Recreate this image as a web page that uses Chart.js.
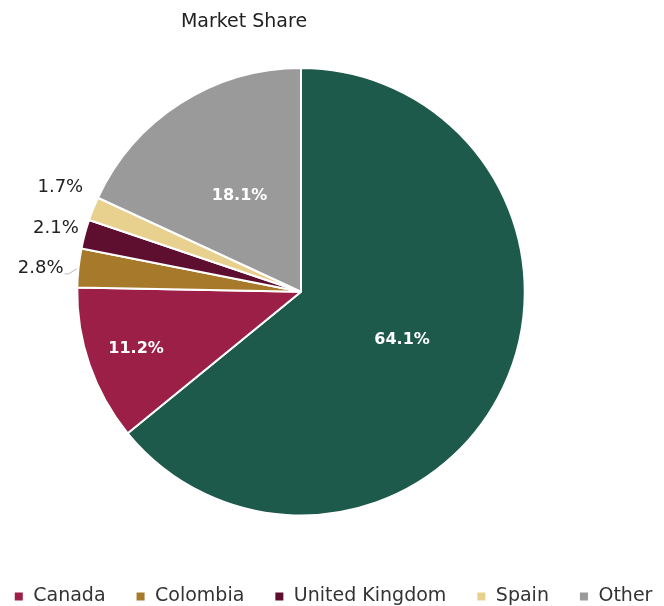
<!DOCTYPE html>
<html>
<head>
<meta charset="utf-8">
<script src="https://cdn.jsdelivr.net/npm/chart.js@4.4.1/dist/chart.umd.min.js"></script>
<style>
  html, body { margin: 0; padding: 0; overflow: hidden; background: #fff; }
  /* canvas is wider than the window: first legend entry falls off the left edge like the original */
  #wrap { position: absolute; left: -236px; top: 0; width: 960px; height: 616px; }
</style>
</head>
<body>
<div id="wrap"><canvas id="share" width="960" height="616"></canvas></div>
<script>
const countries = ['United States', 'Canada', 'Colombia', 'United Kingdom', 'Spain', 'Other'];
const shares = [64.1, 11.2, 2.8, 2.1, 1.7, 18.1];
const sliceColors = ['#1d5a4b', '#9b1f47', '#a67a2a', '#5e0f30', '#e8d08e', '#9a9a9a'];

// where each % label goes: inside at a fraction of the radius, or outside near the edge
const labelPlacement = [
  { r: 0.5 },
  { r: 0.78 },
  { r: 1, dx: -15, dy: 0, outside: true, leader: true },
  { r: 1, dx: -6, dy: -6, outside: true },
  { r: 1, dx: -10, dy: -21, outside: true },
  { r: 0.51 },
];

Chart.defaults.font.family = '"DejaVu Sans", sans-serif';

// move the pie sideways without touching title / legend
const shiftPie = {
  id: 'shiftPie',
  afterLayout(chart, args, opts) {
    chart.chartArea.left += opts.dx;
    chart.chartArea.right += opts.dx;
  }
};

// percent labels on the slices
const pieLabels = {
  id: 'pieLabels',
  afterDatasetsDraw(chart) {
    const ctx = chart.ctx;
    const meta = chart.getDatasetMeta(0);
    meta.data.forEach((arc, i) => {
      const p = arc.getProps(['x', 'y', 'startAngle', 'endAngle', 'outerRadius'], true);
      const mid = (p.startAngle + p.endAngle) / 2;
      const place = labelPlacement[i];
      const r = p.outerRadius * place.r;
      let x = p.x + Math.cos(mid) * r;
      let y = p.y + Math.sin(mid) * r;
      const text = shares[i].toFixed(1) + '%';
      ctx.save();
      ctx.textBaseline = 'middle';
      if (place.outside) {
        const ex = x, ey = y;
        x += place.dx;
        y += place.dy;
        ctx.font = '18px "DejaVu Sans"';
        ctx.fillStyle = '#222';
        ctx.textAlign = 'right';
        ctx.fillText(text, x, y);
        if (place.leader) {
          ctx.strokeStyle = '#b8b8b8';
          ctx.lineWidth = 1;
          ctx.beginPath();
          ctx.moveTo(x + 1, y + 6);
          ctx.lineTo(x + 5, y + 6);
          ctx.lineTo(ex - 2, ey + 1);
          ctx.stroke();
        }
      } else {
        ctx.font = 'bold 16px "DejaVu Sans"';
        ctx.fillStyle = '#fff';
        ctx.textAlign = 'center';
        ctx.fillText(text, x, y);
      }
      ctx.restore();
    });
  }
};

new Chart(document.getElementById('share'), {
  type: 'pie',
  data: {
    labels: countries,
    datasets: [{
      data: shares,
      backgroundColor: sliceColors,
      borderColor: '#ffffff',
      borderWidth: 2,
    }],
  },
  options: {
    responsive: false,
    devicePixelRatio: 1,
    animation: false,
    plugins: {
      shiftPie: { dx: 57 },
      tooltip: { enabled: false },
      title: {
        display: true,
        text: 'Market Share',
        color: '#222',
        font: { size: 19, weight: 'normal' },
        padding: { top: 11, bottom: 33.2 },
      },
      legend: {
        position: 'bottom',
        title: { display: true, text: '', font: { size: 10 }, padding: { top: 28.5, bottom: 0 } },
        labels: {
          color: '#333',
          font: { size: 19 },
          boxWidth: 10,
          boxHeight: 10,
          padding: 30,
        },
      },
    },
  },
  plugins: [shiftPie, pieLabels],
});
</script>
</body>
</html>
